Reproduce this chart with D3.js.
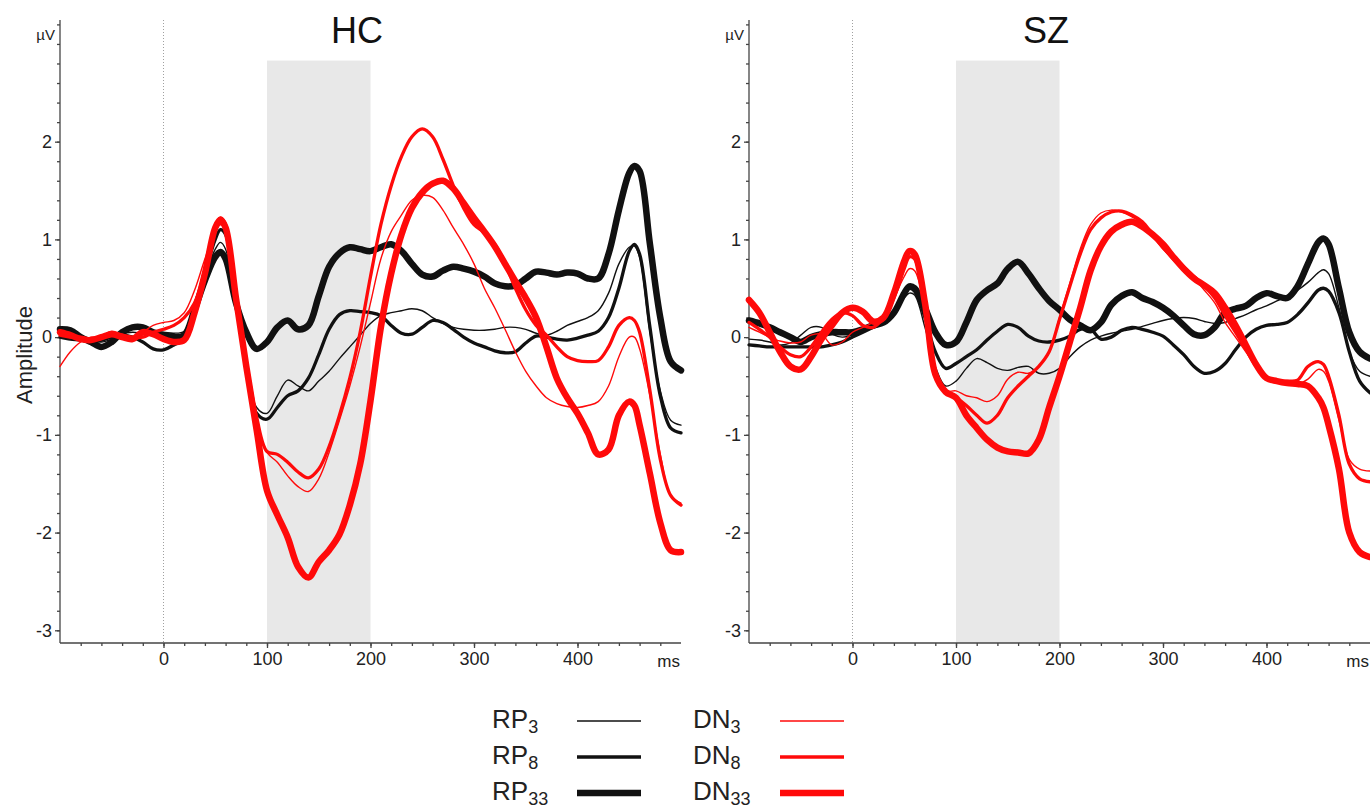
<!DOCTYPE html>
<html>
<head>
<meta charset="utf-8">
<script src="https://cdn.jsdelivr.net/npm/d3@7"></script>
<style>
  body { margin: 0; background: #fff; }
  svg { display: block; font-family: "Liberation Sans", Arial, sans-serif; }
</style>
</head>
<body>
<svg id="chart" width="1370" height="809"></svg>
<script>
// time points (ms) shared by every waveform
const times = [-100,-90,-80,-70,-60,-50,-40,-30,-20,-10,
  0,10,20,30,40,50,55,
  60,70,80,90,100,
  110,120,130,140,150,160,170,180,190,200,
  210,220,230,240,250,260,270,280,290,300,
  310,320,330,340,350,360,370,380,390,400,
  410,420,430,440,450,455,
  460,470,480,490,500];

// HC group, amplitude in µV
const hcRP3 = [0.05,0.03,0.00,-0.03,-0.05,-0.02,0.03,0.05,0.04,0.05,
  0.05,0.04,0.06,0.30,0.62,0.90,0.97,
  0.90,0.35,-0.30,-0.72,-0.78,
  -0.60,-0.44,-0.50,-0.55,-0.45,-0.35,-0.22,-0.10,0.02,0.14,
  0.22,0.25,0.27,0.29,0.27,0.20,0.14,0.10,0.08,0.07,
  0.07,0.08,0.10,0.10,0.08,0.04,0.02,0.06,0.12,0.16,
  0.20,0.27,0.45,0.75,0.92,0.93,
  0.82,0.05,-0.55,-0.85,-0.90];
const hcRP8 = [0.00,-0.02,-0.03,-0.05,-0.03,0.00,0.02,0.00,-0.05,-0.12,
  -0.13,-0.08,-0.02,0.30,0.65,1.00,1.10,
  1.05,0.40,-0.30,-0.78,-0.84,
  -0.72,-0.60,-0.55,-0.42,-0.18,0.08,0.23,0.27,0.26,0.25,
  0.22,0.12,0.04,0.03,0.10,0.17,0.15,0.08,0.00,-0.06,
  -0.10,-0.14,-0.16,-0.15,-0.06,0.01,0.00,-0.02,-0.03,-0.01,
  0.02,0.06,0.20,0.50,0.88,0.95,
  0.85,0.10,-0.60,-0.93,-0.98];
const hcRP33 = [0.08,0.07,0.00,-0.05,-0.10,-0.05,0.05,0.10,0.10,0.05,
  0.02,0.00,0.02,0.28,0.58,0.82,0.87,
  0.80,0.35,0.05,-0.12,-0.05,
  0.10,0.17,0.08,0.12,0.42,0.72,0.86,0.92,0.90,0.88,
  0.92,0.95,0.88,0.75,0.64,0.62,0.68,0.72,0.70,0.67,
  0.62,0.55,0.52,0.53,0.60,0.67,0.66,0.64,0.66,0.65,
  0.60,0.60,0.85,1.30,1.68,1.75,
  1.70,0.95,0.20,-0.25,-0.34];
const hcDN3 = [-0.30,-0.15,-0.05,0.00,0.00,0.02,0.03,0.00,0.05,0.12,
  0.15,0.17,0.25,0.48,0.80,1.08,1.15,
  1.10,0.45,-0.25,-0.85,-1.18,
  -1.28,-1.42,-1.53,-1.58,-1.45,-1.18,-0.85,-0.50,-0.10,0.35,
  0.80,1.08,1.25,1.40,1.45,1.43,1.30,1.12,0.95,0.75,
  0.50,0.30,0.08,-0.15,-0.35,-0.50,-0.62,-0.68,-0.71,-0.72,
  -0.70,-0.66,-0.50,-0.20,0.00,0.00,
  -0.12,-0.60,-1.20,-1.62,-1.70];
const hcDN8 = [0.02,0.00,0.00,-0.02,0.00,0.05,0.02,0.00,0.00,0.05,
  0.08,0.12,0.20,0.35,0.68,1.10,1.22,
  1.15,0.45,-0.25,-0.82,-1.17,
  -1.20,-1.28,-1.38,-1.44,-1.35,-1.12,-0.80,-0.42,0.05,0.62,
  1.15,1.55,1.85,2.05,2.13,2.05,1.82,1.55,1.32,1.15,
  1.07,0.95,0.75,0.50,0.28,0.12,0.02,-0.10,-0.20,-0.24,
  -0.25,-0.24,-0.10,0.12,0.20,0.17,
  0.05,-0.55,-1.25,-1.62,-1.72];
const hcDN33 = [0.05,0.02,-0.02,-0.03,0.00,0.03,0.00,-0.02,0.05,0.03,
  -0.02,-0.05,-0.03,0.25,0.65,1.12,1.20,
  1.12,0.40,-0.30,-0.95,-1.57,
  -1.82,-2.05,-2.35,-2.46,-2.30,-2.18,-2.02,-1.72,-1.30,-0.65,
  0.10,0.65,1.05,1.32,1.48,1.57,1.60,1.52,1.37,1.22,
  1.08,0.93,0.75,0.57,0.40,0.20,-0.10,-0.42,-0.62,-0.78,
  -0.98,-1.20,-1.15,-0.80,-0.66,-0.70,
  -0.90,-1.40,-1.90,-2.18,-2.20];

// SZ group
const szRP3 = [-0.02,-0.03,-0.05,-0.08,-0.06,0.02,0.10,0.10,0.03,0.00,
  0.02,0.06,0.10,0.15,0.25,0.40,0.45,
  0.43,0.10,-0.30,-0.50,-0.45,
  -0.32,-0.22,-0.26,-0.32,-0.34,-0.31,-0.30,-0.37,-0.37,-0.32,
  -0.20,-0.10,-0.03,0.01,0.04,0.06,0.08,0.11,0.14,0.17,
  0.19,0.20,0.19,0.16,0.14,0.15,0.19,0.23,0.28,0.32,
  0.37,0.42,0.48,0.56,0.66,0.69,
  0.65,0.30,-0.15,-0.35,-0.40];
const szRP8 = [-0.08,-0.09,-0.10,-0.10,-0.10,-0.10,-0.10,-0.10,-0.08,-0.05,
  0.00,0.05,0.10,0.15,0.25,0.45,0.50,
  0.47,0.20,-0.15,-0.32,-0.27,
  -0.20,-0.13,-0.03,0.06,0.13,0.10,0.01,-0.04,-0.05,-0.03,
  0.01,0.08,0.08,-0.02,0.00,0.07,0.10,0.08,0.05,0.01,
  -0.08,-0.18,-0.30,-0.37,-0.35,-0.27,-0.13,0.00,0.08,0.12,
  0.13,0.15,0.23,0.35,0.48,0.50,
  0.47,0.25,-0.15,-0.45,-0.57];
const szRP33 = [0.17,0.14,0.10,0.05,0.00,-0.05,0.00,0.03,0.05,0.05,
  0.05,0.08,0.12,0.15,0.25,0.45,0.52,
  0.50,0.30,0.05,-0.08,-0.05,
  0.15,0.38,0.48,0.55,0.70,0.77,0.65,0.50,0.37,0.28,
  0.18,0.12,0.07,0.15,0.33,0.42,0.46,0.40,0.36,0.30,
  0.22,0.12,0.03,0.02,0.10,0.25,0.29,0.32,0.40,0.45,
  0.42,0.40,0.52,0.75,0.97,1.01,
  0.95,0.50,0.05,-0.15,-0.22];
const szDN3 = [0.10,0.05,0.00,-0.04,-0.06,-0.05,0.02,0.03,-0.08,-0.05,
  0.05,0.10,0.15,0.22,0.40,0.62,0.70,
  0.68,0.30,-0.35,-0.55,-0.55,
  -0.60,-0.62,-0.66,-0.60,-0.43,-0.36,-0.37,-0.30,-0.15,0.20,
  0.55,0.90,1.15,1.27,1.30,1.28,1.23,1.16,1.03,0.90,
  0.80,0.70,0.60,0.48,0.35,0.15,0.00,-0.15,-0.30,-0.42,
  -0.47,-0.47,-0.48,-0.43,-0.33,-0.35,
  -0.45,-0.85,-1.25,-1.35,-1.37];
const szDN8 = [0.15,0.08,0.00,-0.10,-0.18,-0.20,-0.10,0.05,0.18,0.25,
  0.22,0.12,0.10,0.20,0.40,0.70,0.82,
  0.80,0.35,-0.38,-0.56,-0.62,
  -0.70,-0.80,-0.88,-0.80,-0.62,-0.50,-0.40,-0.30,-0.15,0.18,
  0.52,0.85,1.10,1.22,1.28,1.29,1.25,1.18,1.05,0.92,
  0.80,0.72,0.62,0.52,0.40,0.22,0.05,-0.12,-0.30,-0.42,
  -0.46,-0.45,-0.44,-0.30,-0.25,-0.28,
  -0.40,-0.80,-1.30,-1.45,-1.48];
const szDN33 = [0.38,0.25,0.05,-0.15,-0.30,-0.33,-0.20,-0.02,0.12,0.25,
  0.30,0.26,0.16,0.20,0.45,0.78,0.88,
  0.85,0.35,-0.38,-0.56,-0.62,
  -0.80,-0.93,-1.05,-1.13,-1.17,-1.18,-1.19,-1.05,-0.72,-0.40,
  -0.05,0.30,0.68,0.93,1.08,1.15,1.18,1.13,1.05,0.95,
  0.82,0.70,0.60,0.53,0.45,0.30,0.12,-0.08,-0.28,-0.42,
  -0.45,-0.47,-0.48,-0.50,-0.62,-0.72,
  -0.90,-1.35,-2.00,-2.20,-2.25];

const groups = ["RP", "DN"];
const counts = ["3", "8", "33"];
const yTickLabels = [-3, -2, -1, 0, 1, 2];
const xTickLabels = [0, 100, 200, 300, 400];
const windowMs = [100, 200]; // shaded analysis window

// styling
const lineColor = { RP: "#111", DN: "#ff0a0a" };
const lineWidth = { "3": 1.4, "8": 3.3, "33": 6.5 };

const panels = [
  { title: "HC", left: 60, waves: { RP: [hcRP3, hcRP8, hcRP33], DN: [hcDN3, hcDN8, hcDN33] } },
  { title: "SZ", left: 749, waves: { RP: [szRP3, szRP8, szRP33], DN: [szDN3, szDN8, szDN33] } },
];

const svg = d3.select("#chart");
const plotTop = 20, plotBottom = 643, plotW = 621;
const y = d3.scaleLinear().domain([-3.13, 3.245]).range([plotBottom, plotTop]);

function drawPanel(p) {
  const x = d3.scaleLinear().domain([-100, 500]).range([p.left, p.left + plotW]);
  const g = svg.append("g");

  // analysis window
  g.append("rect")
    .attr("x", x(windowMs[0]))
    .attr("y", y(2.83))
    .attr("width", x(windowMs[1]) - x(windowMs[0]))
    .attr("height", plotBottom - y(2.83))
    .attr("fill", "#e8e8e8");

  // stimulus onset
  g.append("line")
    .attr("x1", x(0)).attr("x2", x(0))
    .attr("y1", plotTop).attr("y2", plotBottom)
    .attr("stroke", "#a0a0a0")
    .attr("stroke-width", 1)
    .attr("stroke-dasharray", "1,2");

  // y axis
  const yMinor = g.append("g")
    .attr("transform", `translate(${p.left},0)`)
    .call(d3.axisLeft(y).tickValues(d3.range(-3, 3.21, 0.2)).tickSize(3).tickSizeOuter(0).tickFormat(""));
  yMinor.select(".domain").remove();
  const yAxis = g.append("g")
    .attr("transform", `translate(${p.left},0)`)
    .call(d3.axisLeft(y).tickValues(yTickLabels).tickSize(5).tickSizeOuter(0).tickFormat((d) => String(d)));
  yAxis.select(".domain").attr("d", `M0,${plotBottom}V${plotTop}`);

  // x axis
  const xMinor = g.append("g")
    .attr("transform", `translate(0,${plotBottom})`)
    .call(d3.axisBottom(x).tickValues(d3.range(-80, 500, 20)).tickSize(3).tickSizeOuter(0).tickFormat(""));
  xMinor.select(".domain").remove();
  const xAxis = g.append("g")
    .attr("transform", `translate(0,${plotBottom})`)
    .call(d3.axisBottom(x).tickValues(xTickLabels).tickSize(5).tickSizeOuter(0));
  xAxis.select(".domain").attr("d", `M${p.left},0H${p.left + plotW}`);

  g.selectAll(".domain, .tick line").attr("stroke", "#444").attr("stroke-width", 1.3);
  g.selectAll(".tick text").attr("font-size", 18).attr("fill", "#222")
    .attr("font-family", '"Liberation Sans", Arial, sans-serif');
  yAxis.selectAll(".tick text").attr("x", -8);
  xAxis.selectAll(".tick text").attr("y", 9);

  g.append("text")
    .attr("x", p.left - 5).attr("y", 40)
    .attr("text-anchor", "end")
    .attr("font-size", 15).attr("fill", "#222")
    .text("µV");
  g.append("text")
    .attr("x", p.left + plotW - 1).attr("y", plotBottom + 24)
    .attr("text-anchor", "end")
    .attr("font-size", 17).attr("fill", "#222")
    .text("ms");

  g.append("text")
    .attr("x", x(187)).attr("y", 43)
    .attr("text-anchor", "middle")
    .attr("font-size", 36).attr("fill", "#111")
    .text(p.title);

  // waveforms: black first, red on top, thick under thin
  const line = d3.line()
    .x((d) => x(d[0]))
    .y((d) => y(d[1]))
    .curve(d3.curveCatmullRom.alpha(0.5));

  groups.forEach((grp) => {
    [2, 1, 0].forEach((i) => {
      const pts = times.map((t, k) => [t, p.waves[grp][i][k]]);
      g.append("path")
        .datum(pts)
        .attr("d", line)
        .attr("fill", "none")
        .attr("stroke", lineColor[grp])
        .attr("stroke-width", lineWidth[counts[i]])
        .attr("stroke-linejoin", "round")
        .attr("stroke-linecap", "round");
    });
  });
}

panels.forEach(drawPanel);

// y title
svg.append("text")
  .attr("transform", "translate(32,355) rotate(-90)")
  .attr("text-anchor", "middle")
  .attr("font-size", 22).attr("fill", "#222")
  .text("Amplitude");

// legend
const legendX = { RP: { text: 492, line: 577 }, DN: { text: 693, line: 780 } };
const legendRowY = [728, 764, 800];
groups.forEach((grp) => {
  counts.forEach((c, i) => {
    const t = svg.append("text")
      .attr("x", legendX[grp].text)
      .attr("y", legendRowY[i])
      .attr("font-size", 26)
      .attr("fill", "#222");
    t.append("tspan").text(grp);
    t.append("tspan").attr("font-size", 18).attr("dy", 5).text(c);
    svg.append("line")
      .attr("x1", legendX[grp].line)
      .attr("x2", legendX[grp].line + 64)
      .attr("y1", legendRowY[i] - 7)
      .attr("y2", legendRowY[i] - 7)
      .attr("stroke", lineColor[grp])
      .attr("stroke-width", lineWidth[c]);
  });
});
</script>
</body>
</html>
